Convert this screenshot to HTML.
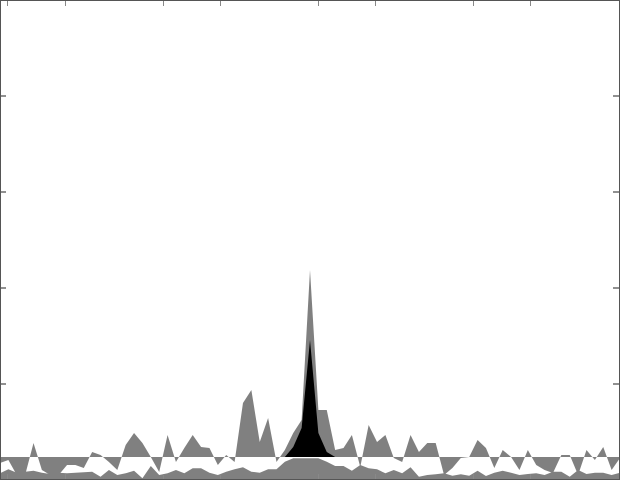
<!DOCTYPE html>
<html><head><meta charset="utf-8"><style>
html,body{margin:0;padding:0;background:#fff;}
svg{display:block;}
</style></head><body>
<svg id="chart" width="620" height="480" viewBox="0 0 620 480">
<rect x="0" y="0" width="620" height="480" fill="#fff"/>
<g id="marks"></g>
<g id="axes"></g>
</svg>
<script>
const upperSeries=[17,20,5,5,37,10,5,5,15,15,12,28,25,18,10,35,47,37,23,8,45,18,32,45,33,32,15,25,18,77,90,38,62,18,30,47,60,210,70,70,30,32,45,13,55,38,45,22,18,45,28,37,37,5,12,22,23,40,32,12,30,23,10,30,15,10,7,25,25,5,30,20,33,10,22];
const lowerSeries=[6.7,10.7,7.3,8.3,9.3,7.3,6,7.3,6.7,7.3,7.7,8.3,3.3,10,5,6.7,9.3,1.7,14,5,6.7,10,6.7,11.7,11.7,7.3,5,8.3,10.7,12.7,8.3,7.3,10.7,10.7,18.3,21.7,21.7,21.7,21.7,18.3,14,14,9.3,15,11.7,10.7,6.7,10,6.7,12.7,3.3,5,5.7,6.7,4.3,5.7,4.3,9.3,4,7.3,9.3,7.3,5,6,6.7,5,8.3,8.3,3.3,10,6,7.3,7.3,5,7.3];
const blackSeries=[23,23,23,23,23,23,23,23,23,23,23,23,23,23,23,23,23,23,23,23,23,23,23,23,23,23,23,23,23,23,23,23,23,23,23,33,52,140,47,28,23,23,23,23,23,23,23,23,23,23,23,23,23,23,23,23,23,23,23,23,23,23,23,23,23,23,23,23,23,23,23,23,23,23,23];
const baselineValue=23;
const yTickValues=[96,192,288,384];
const xTickPixels=[7,65,163,220,318,375,473,530];

const N=upperSeries.length;
function xScale(i){return i*620/(N-1);}
function yScale(v){return 480-v;}
const NS='http://www.w3.org/2000/svg';
const marks=document.getElementById('marks');
const axes=document.getElementById('axes');

function areaPath(series,base){
  let d='M'+xScale(0)+','+yScale(base);
  for(let i=0;i<series.length;i++){d+=' L'+xScale(i).toFixed(2)+','+yScale(series[i]).toFixed(2);}
  d+=' L'+xScale(series.length-1)+','+yScale(base)+' Z';
  return d;
}
const pU=document.createElementNS(NS,'path');
pU.setAttribute('d',areaPath(upperSeries,baselineValue));
pU.setAttribute('fill','#808080');


marks.appendChild(pU);

const pL=document.createElementNS(NS,'path');
pL.setAttribute('d',areaPath(lowerSeries,0));
pL.setAttribute('fill','#808080');


marks.appendChild(pL);

const pB=document.createElementNS(NS,'path');
pB.setAttribute('d',areaPath(blackSeries,baselineValue));
pB.setAttribute('fill','#000');


marks.appendChild(pB);

yTickValues.forEach(v=>{
  const l=document.createElementNS(NS,'line');
  l.setAttribute('x1',0);l.setAttribute('x2',6);
  l.setAttribute('y1',yScale(v));l.setAttribute('y2',yScale(v));
  l.setAttribute('stroke','#222');
  
  
  axes.appendChild(l);
  const r=document.createElementNS(NS,'line');
  r.setAttribute('x1',613);r.setAttribute('x2',619);
  r.setAttribute('y1',yScale(v));r.setAttribute('y2',yScale(v));
  r.setAttribute('stroke','#222');
  
  
  axes.appendChild(r);
});
xTickPixels.forEach(x=>{
  const t=document.createElementNS(NS,'line');
  t.setAttribute('x1',x+0.5);t.setAttribute('x2',x+0.5);
  t.setAttribute('y1',1);t.setAttribute('y2',6);
  t.setAttribute('stroke','#888');
  
  
  axes.appendChild(t);
  const b=document.createElementNS(NS,'line');
  b.setAttribute('x1',x+0.5);b.setAttribute('x2',x+0.5);
  b.setAttribute('y1',474);b.setAttribute('y2',479);
  b.setAttribute('stroke','#888');
  
  
  axes.appendChild(b);
});
const frame=document.createElementNS(NS,'rect');
frame.setAttribute('x',0.5);frame.setAttribute('y',0.5);
frame.setAttribute('width',619);frame.setAttribute('height',479);
frame.setAttribute('fill','none');frame.setAttribute('stroke','#555');


axes.appendChild(frame);
</script>
</body></html>
